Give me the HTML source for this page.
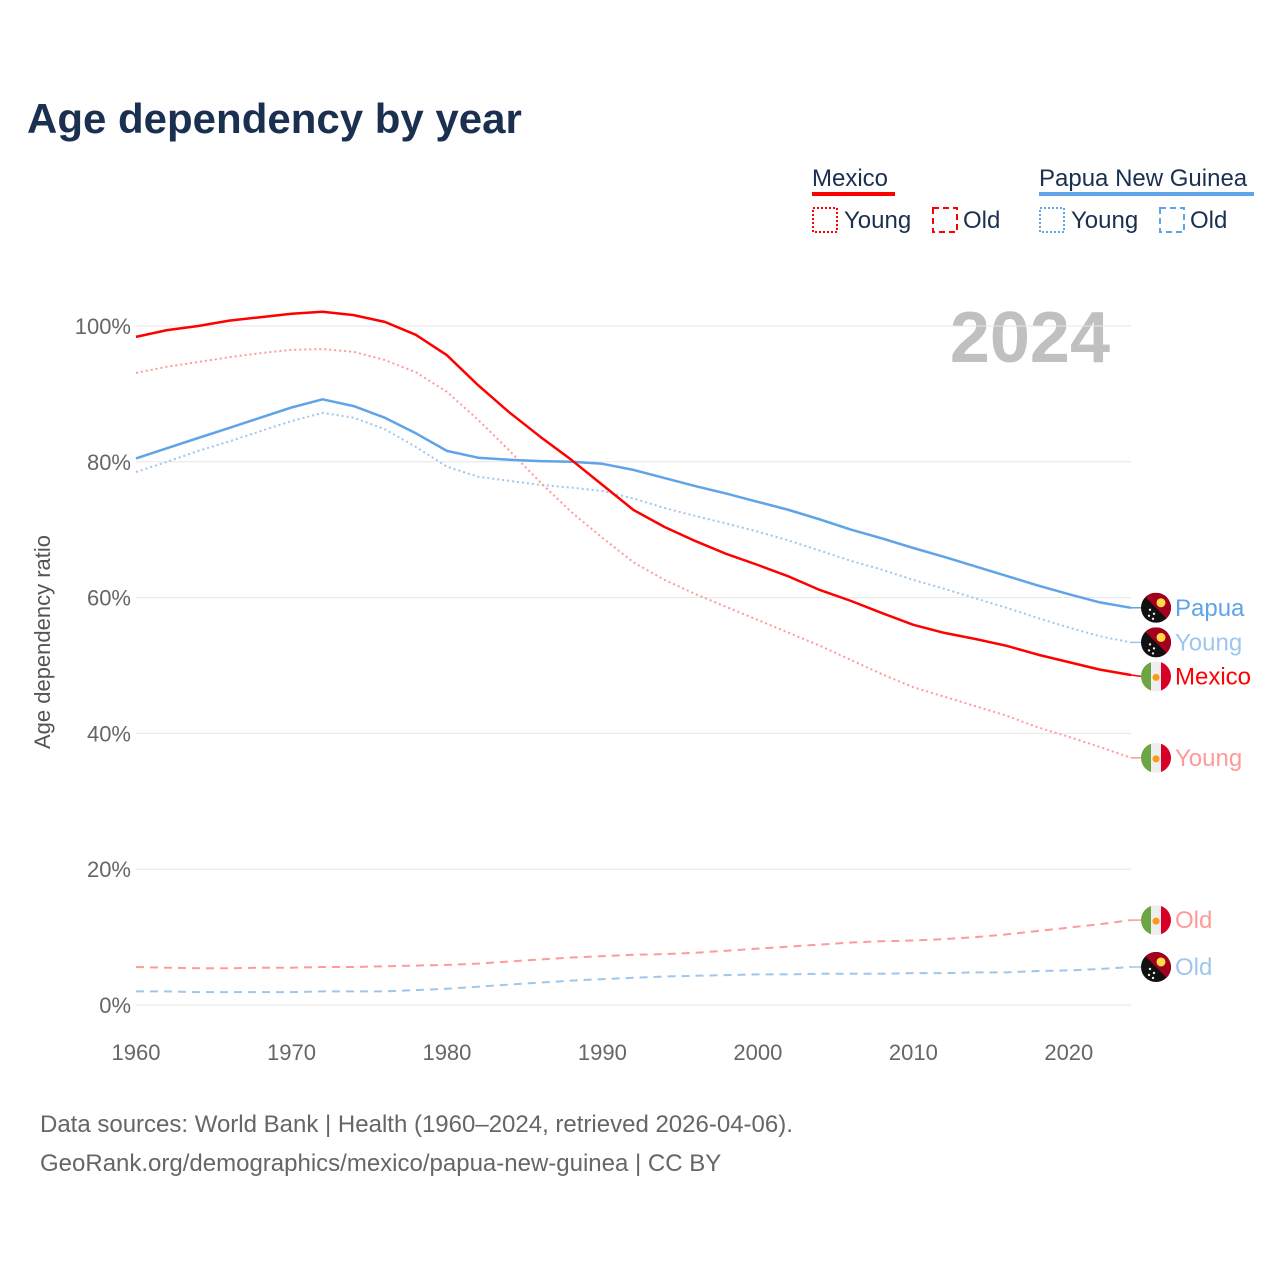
<!DOCTYPE html>
<html><head><meta charset="utf-8">
<style>
body{margin:0;background:#fff;font-family:"Liberation Sans",sans-serif;}
svg text{font-family:"Liberation Sans",sans-serif;}
</style></head>
<body>
<svg id="chart" width="1280" height="1280" viewBox="0 0 1280 1280" xmlns="http://www.w3.org/2000/svg">
<text x="27" y="133" font-size="42" font-weight="bold" fill="#1b3050">Age dependency by year</text>
<g>
 <g>
  <text x="812" y="186" font-size="24" fill="#1b3050">Mexico</text>
  <rect x="812" y="192" width="83" height="4" fill="#ff0000"/>
  <rect x="813" y="208" width="24" height="24" fill="none" stroke="#ff0000" stroke-width="2" stroke-dasharray="2,2"/>
  <text x="844" y="228" font-size="24" fill="#1b3050">Young</text>
  <rect x="933" y="208" width="24" height="24" fill="none" stroke="#ff0000" stroke-width="2" stroke-dasharray="6,4"/>
  <text x="963" y="228" font-size="24" fill="#1b3050">Old</text>
 </g>
 <g>
  <text x="1039" y="186" font-size="24" fill="#1b3050">Papua New Guinea</text>
  <rect x="1039" y="192" width="215" height="4" fill="#5fa4e8"/>
  <rect x="1040" y="208" width="24" height="24" fill="none" stroke="#5fa4e8" stroke-width="2" stroke-dasharray="2,2"/>
  <text x="1071" y="228" font-size="24" fill="#1b3050">Young</text>
  <rect x="1160" y="208" width="24" height="24" fill="none" stroke="#5fa4e8" stroke-width="2" stroke-dasharray="6,4"/>
  <text x="1190" y="228" font-size="24" fill="#1b3050">Old</text>
 </g>
</g>
<text x="1110" y="362" font-size="72" font-weight="bold" fill="#c0c0c0" text-anchor="end">2024</text>
<text transform="translate(50,642) rotate(-90)" font-size="22" fill="#555" text-anchor="middle">Age dependency ratio</text>
<g id="grid"></g><g id="lines"></g><g id="ends"></g>
<text x="40" y="1132" font-size="24" fill="#666">Data sources: World Bank | Health (1960–2024, retrieved 2026-04-06).</text>
<text x="40" y="1171" font-size="24" fill="#666">GeoRank.org/demographics/mexico/papua-new-guinea | CC BY</text>
</svg>
<script>
const years=[1960,1962,1964,1966,1968,1970,1972,1974,1976,1978,1980,1982,1984,1986,1988,1990,1992,1994,1996,1998,2000,2002,2004,2006,2008,2010,2012,2014,2016,2018,2020,2022,2024];
const mexTotal=[98.4,99.4,100.0,100.8,101.3,101.8,102.1,101.6,100.6,98.7,95.7,91.3,87.3,83.7,80.3,76.6,72.9,70.4,68.3,66.4,64.8,63.1,61.1,59.5,57.7,56.0,54.8,53.9,52.9,51.6,50.5,49.4,48.6];
const mexYoung=[93.1,94.0,94.7,95.4,96.0,96.5,96.6,96.2,95.0,93.2,90.3,86.2,81.7,77.0,72.6,68.8,65.2,62.6,60.5,58.6,56.7,54.8,52.9,50.8,48.7,46.8,45.4,44.0,42.6,40.9,39.5,38.0,36.4];
const mexOld=[5.6,5.5,5.4,5.4,5.5,5.5,5.6,5.6,5.7,5.8,5.9,6.1,6.4,6.7,7.0,7.2,7.4,7.5,7.7,8.0,8.3,8.6,8.9,9.2,9.4,9.5,9.7,10.0,10.4,10.9,11.4,11.9,12.5];
const pngTotal=[80.5,82.0,83.5,85.0,86.5,88.0,89.2,88.2,86.5,84.2,81.6,80.6,80.3,80.1,80.0,79.7,78.8,77.6,76.4,75.3,74.1,72.9,71.5,70.0,68.7,67.3,66.0,64.6,63.2,61.8,60.5,59.3,58.5];
const pngYoung=[78.5,80.0,81.6,83.0,84.5,86.0,87.2,86.5,84.8,82.2,79.3,77.8,77.2,76.6,76.2,75.7,74.6,73.2,72.0,70.9,69.7,68.4,66.9,65.4,64.1,62.6,61.3,59.9,58.5,57.0,55.6,54.3,53.4];
const pngOld=[2.0,2.0,1.9,1.9,1.9,1.9,2.0,2.0,2.0,2.2,2.4,2.7,3.0,3.3,3.6,3.8,4.0,4.2,4.3,4.4,4.5,4.5,4.6,4.6,4.6,4.7,4.7,4.8,4.8,5.0,5.1,5.3,5.6];
const yTicks=[0,20,40,60,80,100];
const xTicks=[1960,1970,1980,1990,2000,2010,2020];
const NS="http://www.w3.org/2000/svg";
const X=y=>136+(y-1960)*(1131-136)/64;
const Y=v=>1005-v*6.79;
function mk(tag,attrs,parent){const e=document.createElementNS(NS,tag);for(const k in attrs)e.setAttribute(k,attrs[k]);parent.appendChild(e);return e;}
const grid=document.getElementById('grid');
yTicks.forEach(t=>{
 const l=mk('line',{x1:136,x2:1131,y1:Y(t),y2:Y(t),stroke:'#e6e6e6','stroke-width':1},grid);
 
 
 const tx=mk('text',{x:131,y:Y(t)+8,'font-size':22,fill:'#666','text-anchor':'end'},grid);
 tx.textContent=t+'%';
 
 
});
xTicks.forEach(t=>{
 const tx=mk('text',{x:X(t),y:1060,'font-size':22,fill:'#666','text-anchor':'middle'},grid);
 tx.textContent=t;
 
 
});
const series=[
 {d:pngOld,c:'#9fc6ee',dash:'8,6',w:2,name:'papua-old',label:'Old',flag:'png'},
 {d:mexOld,c:'#ff9a9a',dash:'8,6',w:2,name:'mexico-old',label:'Old',flag:'mex'},
 {d:pngYoung,c:'#9fc6ee',dash:'2,3',w:2,name:'papua-young',label:'Young',flag:'png'},
 {d:mexYoung,c:'#ff9a9a',dash:'2,3',w:2,name:'mexico-young',label:'Young',flag:'mex'},
 {d:pngTotal,c:'#5fa4e8',dash:'',w:2.5,name:'papua-total',label:'Papua',flag:'png'},
 {d:mexTotal,c:'#ff0000',dash:'',w:2.5,name:'mexico-total',label:'Mexico',flag:'mex'}
];
const lines=document.getElementById('lines');
series.forEach(s=>{
 const p=mk('path',{d:s.d.map((v,i)=>(i?'L':'M')+X(years[i]).toFixed(1)+','+Y(v).toFixed(1)).join(''),fill:'none',stroke:s.c,'stroke-width':s.w,'stroke-dasharray':s.dash,'stroke-linejoin':'round'},lines);
 
 
});
const lab=series.map(s=>({s,y:Y(s.d[s.d.length-1])})).sort((a,b)=>a.y-b.y);
for(let i=1;i<lab.length;i++){if(lab[i].y-lab[i-1].y<34)lab[i].y=lab[i-1].y+34;}
const ends=document.getElementById('ends');
lab.forEach(o=>{
 const s=o.s,cx=1156,cy=o.y;
 mk('line',{x1:X(2024),y1:Y(s.d[s.d.length-1]),x2:cx-15,y2:cy,stroke:s.c,'stroke-width':1.5},ends);
 const g=mk('g',{},ends);
 
 
 const cid='c'+s.name;
 const cp=mk('clipPath',{id:cid},g);mk('circle',{cx,cy,r:15},cp);
 const gg=mk('g',{'clip-path':'url(#'+cid+')'},g);
 if(s.flag==='mex'){
  mk('rect',{x:cx-15,y:cy-15,width:10,height:30,fill:'#6da544'},gg);
  mk('rect',{x:cx-5,y:cy-15,width:10,height:30,fill:'#eeeeee'},gg);
  mk('rect',{x:cx+5,y:cy-15,width:10,height:30,fill:'#d80027'},gg);
  mk('circle',{cx,cy:cy+1,r:3.5,fill:'#ff9811'},gg);
 }else{
  mk('rect',{x:cx-15,y:cy-15,width:30,height:30,fill:'#111'},gg);
  mk('polygon',{points:(cx-15)+','+(cy-15)+' '+(cx+15)+','+(cy-15)+' '+(cx+15)+','+(cy+15),fill:'#a2001d'},gg);
  mk('circle',{cx:cx+5,cy:cy-5,r:4.5,fill:'#ffda44'},gg);
  [[-6,2],[-2,6],[-7,8],[-3,11]].forEach(q=>mk('circle',{cx:cx+q[0],cy:cy+q[1],r:1.2,fill:'#eee'},gg));
 }
 const t=mk('text',{x:1175,y:cy+8,'font-size':24,fill:s.c},ends);
 t.textContent=s.label;
 
 
});
</script>
</body></html>
